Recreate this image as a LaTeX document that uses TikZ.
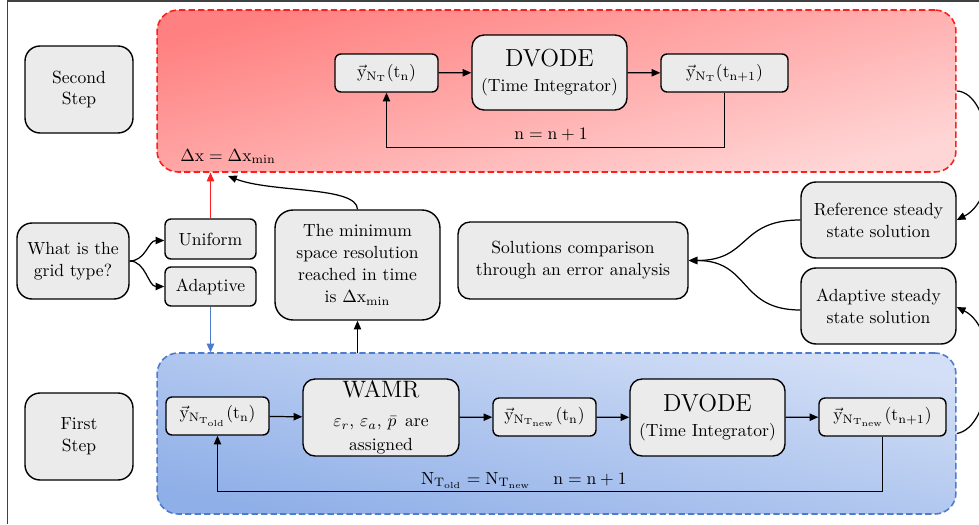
\documentclass[tikz,border=0pt]{standalone}
\usetikzlibrary{arrows.meta}
\definecolor{boxgray}{HTML}{EBEBEB}
\definecolor{redA}{HTML}{FF8080}
\definecolor{redB}{HTML}{FFD6D6}
\definecolor{redline}{HTML}{FF1E1E}
\definecolor{blueA}{HTML}{D3DFF6}
\definecolor{blueB}{HTML}{8FAFE8}
\definecolor{blueline}{HTML}{4C7BD0}
\definecolor{framegray}{HTML}{404040}
\tikzset{
  box/.style={draw, line width=0.8pt, fill=boxgray, align=center, inner sep=0pt,
    font=\fontsize{10}{12.5}\selectfont},
  bigbox/.style={box, rounded corners=0.3cm},
  smallbox/.style={box, rounded corners=0.12cm, minimum height=0.76cm},
  arr/.style={line width=0.7pt, -{Triangle[length=5pt,width=4.2pt]}},
  lbl/.style={inner sep=0pt, font=\fontsize{10}{12.5}\selectfont},
  container/.style={dashed, dash pattern=on 3.6pt off 1.8pt, line width=0.9pt,
    rounded corners=0.42cm, minimum width=15.98cm, inner sep=0pt}
}
\newcommand{\vy}{\vec{\mathrm{y}}}
\begin{document}
\begin{tikzpicture}[x=0.02cm,y=-0.02cm]
\useasboundingbox (0,0) rectangle (979,524);
\clip (0,0) rectangle (979,524);
\fill[white] (0,0) rectangle (979,524);
% frame
\draw[framegray, line width=1.1pt] (7.5,524) -- (7.5,1.2) -- (979,1.2);

% containers
\node[container, draw=redline, top color=redA, bottom color=redB, shading angle=14,
  minimum height=3.24cm] (redbox) at (556.5,91) {};
\node[container, draw=blueline, top color=blueA, bottom color=blueB, shading angle=-12,
  minimum height=3.22cm] (bluebox) at (556.5,433.5) {};

% second step
\node[bigbox, minimum width=2.16cm, minimum height=1.74cm] (second) at (79,89.5) {Second\\Step};
\node[smallbox, minimum width=2.06cm] (yT1) at (386.5,73) {\(\vy_{\mathrm{N}_{\mathrm{T}}}(\mathrm{t}_{\mathrm{n}})\)};
\node[box, rounded corners=0.24cm, minimum width=3.1cm, minimum height=1.5cm] (dvT) at (549.5,72.5)
  {{\fontsize{14}{14}\selectfont DVODE}\\[2pt](Time Integrator)};
\node[smallbox, minimum width=2.54cm] (yT2) at (724.5,73) {\(\vy_{\mathrm{N}_{\mathrm{T}}}(\mathrm{t}_{\mathrm{n+1}})\)};
\draw[arr] (yT1) -- (dvT);
\draw[arr] (dvT) -- (yT2);
\draw[arr] (yT2.south) -- ++(0,55) -| (yT1.south);
\node[lbl, anchor=base] (nT) at (551,139) {\(\mathrm{n}=\mathrm{n}+1\)};
\node[lbl, anchor=base west] (dx) at (180,161) {\(\Delta\mathrm{x}=\Delta\mathrm{x}_{\mathrm{min}}\)};

% middle
\node[bigbox, minimum width=2.24cm, minimum height=1.52cm] (grid) at (73,261) {What is the\\grid type?};
\node[smallbox, minimum width=1.82cm, minimum height=0.8cm] (unif) at (210.5,239) {Uniform};
\node[smallbox, minimum width=1.82cm, minimum height=0.78cm] (adap) at (210.5,286.5) {Adaptive};
\node[bigbox, rounded corners=0.36cm, minimum width=3.3cm, minimum height=2.2cm] (minb) at (357.5,265)
  {The minimum\\space resolution\\reached in time\\is \(\Delta\mathrm{x}_{\mathrm{min}}\)};
\node[box, rounded corners=0.24cm, minimum width=4.6cm, minimum height=1.54cm] (sol) at (573,260.5)
  {Solutions comparison\\through an error analysis};
\node[bigbox, minimum width=3.1cm, minimum height=1.52cm] (ref) at (878.5,220) {Reference steady\\state solution};
\node[bigbox, minimum width=3.1cm, minimum height=1.52cm] (ads) at (878.5,306) {Adaptive steady\\state solution};

\draw[arr] (grid.east) .. controls +(16,0) and +(-16,0) .. ([yshift=-0.03cm]unif.west);
\draw[arr] (grid.east) .. controls +(16,0) and +(-16,0) .. (adap.west);
\coordinate (redin) at (210.5,172.5);
\coordinate (blackin) at (228,176);
\coordinate (bluein) at (210.5,352.5);
\coordinate (minin) at (357.5,353);
\draw[arr, redline] (unif.north) -- (redin);
\draw[arr, blueline] (adap.south) -- (bluein);
\draw[arr] (minb.north) .. controls (357,186) and (272,193) .. (blackin);
\draw[arr] (minin) -- (minb.south);
\draw[arr] (ref.west) .. controls +(-62,0) and +(62,0) .. (sol.east);
\draw[arr] ([yshift=-0.08cm]ads.west) .. controls +(-62,0) and +(62,0) .. (sol.east);
\draw[arr] (redbox.east) .. controls (992,92) and (1004,196) .. (ref.east);
\draw[arr] (bluebox.east) .. controls (992,428) and (1002,330) .. ([yshift=-0.02cm]ads.east);

% first step
\node[bigbox, minimum width=2.16cm, minimum height=1.74cm] (first) at (79,436.5) {First\\Step};
\node[smallbox, minimum width=2.06cm] (yO) at (217.5,416)
  {\(\vy_{\mathrm{N}_{\mathrm{T}_{\mathrm{old}}}}(\mathrm{t}_{\mathrm{n}})\)};
\node[box, rounded corners=0.24cm, minimum width=3.12cm, minimum height=1.54cm] (wamr) at (381,417.5)
  {{\fontsize{13.5}{13.5}\selectfont WAMR}\\[4pt]\(\varepsilon_r\), \(\varepsilon_a\), \(\bar{p}\,\) are\\[1pt]assigned};
\node[smallbox, minimum width=2.06cm] (yN1) at (544.5,417)
  {\(\vy_{\mathrm{N}_{\mathrm{T}_{\mathrm{new}}}}(\mathrm{t}_{\mathrm{n}})\)};
\node[box, rounded corners=0.24cm, minimum width=3.1cm, minimum height=1.54cm] (dvB) at (707.5,417.5)
  {{\fontsize{14}{14}\selectfont DVODE}\\[2pt](Time Integrator)};
\node[smallbox, minimum width=2.54cm] (yN2) at (882.5,417)
  {\(\vy_{\mathrm{N}_{\mathrm{T}_{\mathrm{new}}}}(\mathrm{t}_{\mathrm{n+1}})\)};
\draw[arr] (yO) -- (wamr);
\draw[arr] (wamr) -- (yN1);
\draw[arr] (yN1) -- (dvB);
\draw[arr] (dvB) -- (yN2);
\draw[arr] (yN2.south) -- ++(0,55) -| (yO.south);
\node[lbl, anchor=base] (nold) at (476,484)
  {\(\mathrm{N}_{\mathrm{T}_{\mathrm{old}}}=\mathrm{N}_{\mathrm{T}_{\mathrm{new}}}\)};
\node[lbl, anchor=base] (nB) at (590,484) {\(\mathrm{n}=\mathrm{n}+1\)};
\end{tikzpicture}
\end{document}
